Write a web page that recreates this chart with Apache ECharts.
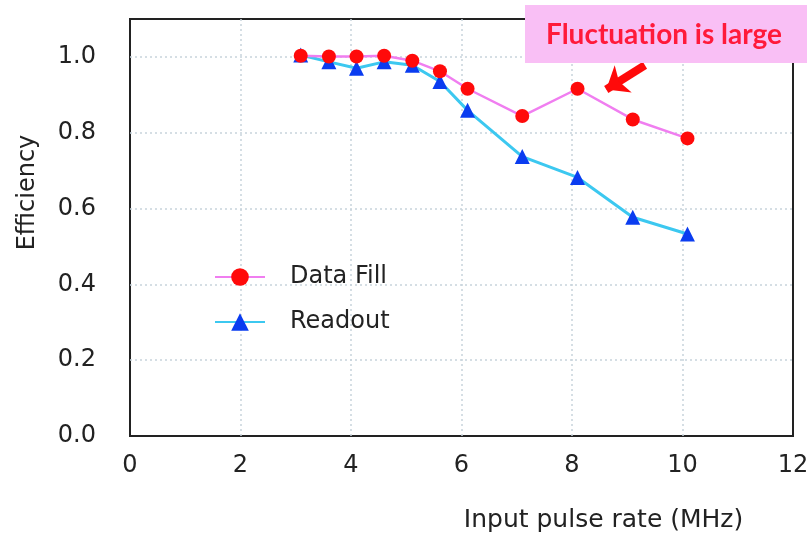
<!DOCTYPE html>
<html>
<head>
<meta charset="utf-8">
<script src="https://cdn.jsdelivr.net/npm/echarts@6/dist/echarts.min.js"></script>
<style>html,body{margin:0;padding:0;background:#fff}#c{width:812px;height:538px}</style>
</head>
<body>
<div id="c"></div>
<script>
// Data
const dataFillX = [3.09, 3.60, 4.10, 4.60, 5.11, 5.61, 6.11, 7.10, 8.10, 9.10, 10.09];
const dataFillY = [1.003, 1.001, 1.001, 1.003, 0.990, 0.962, 0.916, 0.844, 0.916, 0.835, 0.785];
const readoutX = [3.09, 3.60, 4.10, 4.60, 5.11, 5.61, 6.11, 7.10, 8.10, 9.10, 10.09];
const readoutY = [1.005, 0.987, 0.970, 0.987, 0.978, 0.935, 0.859, 0.737, 0.682, 0.577, 0.533];
const seriesNames = ['Data Fill', 'Readout'];
const xTicks = { min: 0, max: 12, interval: 2 };
const yTicks = { min: 0, max: 1.1, interval: 0.2 };
const annotationText = 'Fluctuation is large';
const arrowFrom = [9.32, 0.978];
const arrowTo = [8.62, 0.914];

const pair = (xs, ys) => xs.map((x, i) => [x, ys[i]]);
const FONT = 'DejaVu Sans';
const gridLine = { show: true, showMinLine: false, showMaxLine: false, lineStyle: { color: '#c8d3dc', type: [2, 3], width: 1.5 } };

const chart = echarts.init(document.getElementById('c'), null, { renderer: 'canvas' });
chart.setOption({
  animation: false,
  backgroundColor: '#fff',
  grid: {
    left: 130, right: 19, top: 19, bottom: 99,
    show: true, borderColor: '#222', borderWidth: 2, backgroundColor: 'transparent'
  },
  legend: {
    data: seriesNames,
    orient: 'vertical',
    left: 209, top: 260,
    itemWidth: 50, itemHeight: 22, itemGap: 21,
    textStyle: { fontFamily: FONT, fontSize: 24, color: '#222', padding: [0, 0, 0, 20] }
  },
  xAxis: {
    type: 'value',
    min: xTicks.min, max: xTicks.max, interval: xTicks.interval,
    name: 'Input pulse rate (MHz)',
    nameLocation: 'middle', nameGap: 72,
    nameTextStyle: { fontFamily: FONT, fontSize: 25, color: '#222', padding: [0, 0, 0, 284] },
    axisLine: { show: false },
    axisTick: { show: false },
    axisLabel: { fontFamily: FONT, fontSize: 24, color: '#222', margin: 18 },
    splitLine: gridLine
  },
  yAxis: {
    type: 'value',
    min: yTicks.min, max: yTicks.max, interval: yTicks.interval,
    name: 'Efficiency',
    nameLocation: 'middle', nameGap: 90,
    nameTextStyle: { fontFamily: FONT, fontSize: 24, color: '#222', padding: [0, 0, 0, 70] },
    axisLine: { show: false },
    axisTick: { show: false },
    axisLabel: {
      fontFamily: FONT, fontSize: 24, color: '#222', margin: 34,
      showMaxLabel: false,
      formatter: v => v.toFixed(1)
    },
    splitLine: gridLine
  },
  series: [
    {
      name: seriesNames[1],
      type: 'line',
      z: 2,
      data: pair(readoutX, readoutY),
      symbol: 'triangle', symbolSize: 15,
      lineStyle: { color: '#3cc8f0', width: 3 },
      itemStyle: { color: '#0a3cf0' }
    },
    {
      name: seriesNames[0],
      type: 'line',
      z: 3,
      data: pair(dataFillX, dataFillY),
      symbol: 'circle', symbolSize: 14,
      lineStyle: { color: '#f07ef0', width: 2.5 },
      itemStyle: { color: '#ff0a0a' },
      markLine: {
        silent: true,
        symbol: ['none', 'arrow'],
        symbolSize: [24, 20],
        label: { show: false },
        lineStyle: { color: '#ff0a0a', width: 8, type: 'solid' },
        data: [[{ coord: arrowFrom }, { coord: arrowTo }]]
      }
    }
  ],
  graphic: [
    {
      type: 'rect', z: 100,
      shape: { x: 525, y: 5, width: 282, height: 58 },
      style: { fill: '#f9bff5' }
    },
    {
      type: 'text', z: 101,
      style: {
        text: annotationText, x: 664, y: 35,
        textAlign: 'center', textVerticalAlign: 'middle',
        font: 'bold 28px Lato', fill: '#ff1a3a'
      }
    }
  ]
});
</script>
</body>
</html>
